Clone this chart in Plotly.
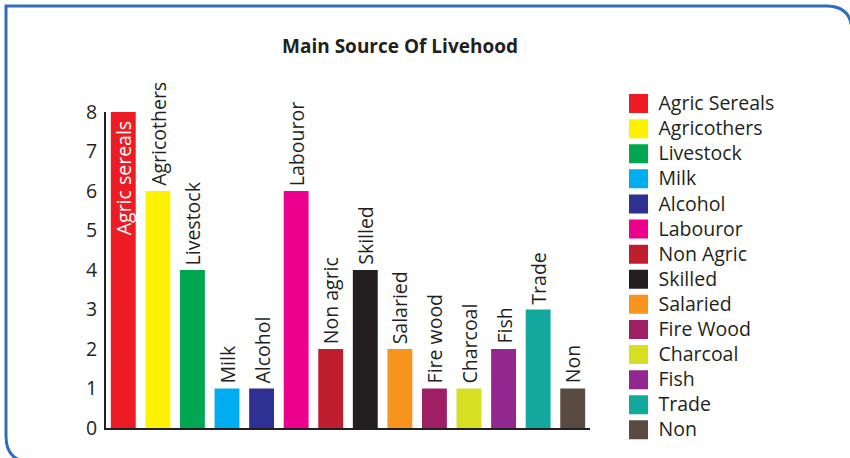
import plotly.graph_objects as go

# Livelihood categories, counts and colours
bar_labels = ["Agric sereals", "Agricothers", "Livestock", "Milk", "Alcohol",
              "Labouror", "Non agric", "Skilled", "Salaried", "Fire wood",
              "Charcoal", "Fish", "Trade", "Non"]
legend_names = ["Agric Sereals", "Agricothers", "Livestock", "Milk", "Alcohol",
                "Labouror", "Non Agric", "Skilled", "Salaried", "Fire Wood",
                "Charcoal", "Fish", "Trade", "Non"]
counts = [8, 6, 4, 1, 1, 6, 2, 4, 2, 1, 1, 2, 3, 1]
colors = ["#ED1C24", "#FFF200", "#00A651", "#00AEEF", "#2E3192",
          "#EC008C", "#BE1E2D", "#231F20", "#F7941D", "#9E1F63",
          "#D7DF23", "#92278F", "#12A89D", "#594A42"]
y_ticks = [0, 1, 2, 3, 4, 5, 6, 7, 8]

W, H = 850, 458
ML, MR, MT, MB = 106, 260, 112, 30
PW, PH = W - ML - MR, H - MT - MB
INK = "#231F20"
FONT = "Open Sans"
TXT = 19.5


def px(x, y):
    """Pixel position on the page -> paper coordinates."""
    return (x - ML) / PW, (H - MB - y) / PH


fig = go.Figure()

for lab, name, val, col in zip(bar_labels, legend_names, counts, colors):
    fig.add_trace(go.Bar(
        x=[lab], y=[val], name=name, legendgroup=name, showlegend=False,
        marker=dict(color=col, line=dict(width=0)),
    ))
    # legend entry with a larger square swatch; the row height follows the
    # legend font, the entry text is drawn a little larger
    fig.add_trace(go.Scatter(
        x=[None], y=[None], mode="markers", legendgroup=name,
        name=f'<span style="font-size:{TXT}px">{name}</span>',
        marker=dict(symbol="square", size=16, color=col,
                    line=dict(color=col, width=3)),
    ))

# rotated value labels above each bar (the tallest one sits inside its bar)
for lab, val in zip(bar_labels, counts):
    inside = val == max(counts)
    fig.add_annotation(
        x=lab, y=val, xref="x", yref="y", text=lab, showarrow=False,
        textangle=-90, yanchor="top" if inside else "bottom",
        yshift=-7 if inside else 3,
        font=dict(family=FONT, size=TXT, color="white" if inside else INK),
    )


# rounded blue frame around the chart
def P(x, y):
    a, b = px(x, y)
    return f"{a:.5f},{b:.5f}"


frame = (f"M{P(32, 462)} Q{P(6, 462)} {P(6, 436)} L{P(6, 6)} "
         f"L{P(826, 6)} Q{P(852, 6)} {P(852, 32)}")
fig.add_shape(type="path", path=frame, xref="paper", yref="paper",
              line=dict(color="#2F6EBA", width=3), layer="above")

fig.update_layout(
    width=W, height=H,
    margin=dict(l=ML, r=MR, t=MT, b=MB),
    paper_bgcolor="white", plot_bgcolor="white",
    barmode="overlay", bargap=0.28,
    title=dict(text="<b>Main Source Of Livehood</b>", x=px(400, 0)[0],
               xref="paper", xanchor="center", y=1 - 46 / H, yanchor="middle",
               font=dict(family=FONT, size=19, color=INK)),
    font=dict(family=FONT, color=INK),
    legend=dict(x=px(618.5, 0)[0], y=px(0, 86)[1], xanchor="left",
                yanchor="top", font=dict(family=FONT, size=17, color=INK),
                bgcolor="rgba(0,0,0,0)", tracegroupgap=0, maxheight=1),
    showlegend=True,
)
fig.update_xaxes(showticklabels=False, showgrid=False, zeroline=False,
                 showline=True, linecolor=INK, linewidth=2, ticks="",
                 range=[-0.5, len(bar_labels) - 0.5], fixedrange=True)
fig.update_yaxes(range=[0, 8], tickvals=y_ticks, showgrid=False,
                 zeroline=False, showline=True, linecolor=INK, linewidth=2,
                 ticks="", ticklabelstandoff=3,
                 tickfont=dict(family=FONT, size=TXT, color=INK))

fig.write_html("out.html")
